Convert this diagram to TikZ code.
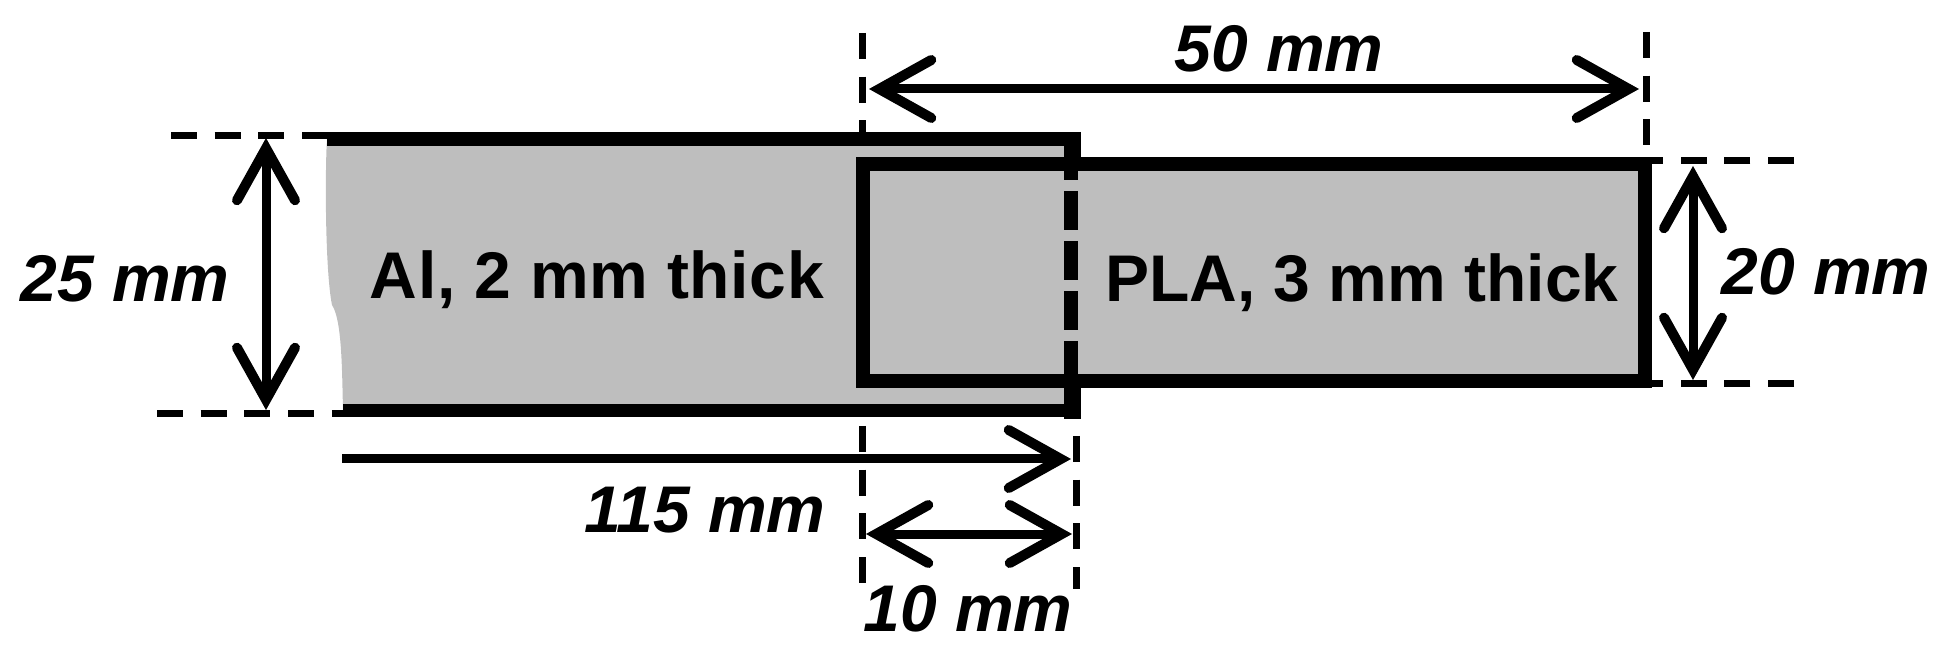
\documentclass[tikz,border=0pt]{standalone}
\usepackage{fontspec}
\setmainfont{Liberation Sans}
\usetikzlibrary{arrows.meta}
\newlength{\du}
\setlength{\du}{0.5pt}
\definecolor{dialinecolor}{rgb}{0.745098, 0.745098, 0.745098}
\tikzset{
  outline/.style={line width=14\du, line cap=rect, line join=miter},
  guideline/.style={line width=7\du, dash pattern=on 26\du off 17.7\du},
  barb/.tip={Straight Barb[length=26pt, width=29pt, line cap=round, line join=miter, line width=5pt]},
  dimline/.style={line width=9\du, barb-barb},
  dimlineone/.style={line width=9\du, -barb},
  dimlabel/.style={font=\fontsize{33}{40}\selectfont\bfseries\itshape, inner sep=0pt, anchor=base},
  matlabel/.style={font=\fontsize{33}{40}\selectfont\bfseries, inner sep=0pt, anchor=base}
}
\begin{document}
\begin{tikzpicture}
\pgftransformxscale{1.000000}
\pgftransformyscale{-1.000000}
\useasboundingbox (0.000000\du,0.000000\du) rectangle (1960.000000\du,662.000000\du);
% fill of both strips
\fill[dialinecolor] (327.000000\du,139.000000\du) .. controls (325.000000\du,170.000000\du) and (325.000000\du,270.000000\du) .. (332.000000\du,305.000000\du) .. controls (342.000000\du,320.000000\du) and (342.000000\du,370.000000\du) .. (343.000000\du,410.000000\du)--(1072.000000\du,410.000000\du)--(1072.000000\du,381.500000\du)--(1645.000000\du,381.500000\du)--(1645.000000\du,164.500000\du)--(1072.000000\du,164.500000\du)--(1072.000000\du,139.000000\du)--cycle;
% corners
\coordinate (altopleft) at (327.000000\du,139.000000\du);
\coordinate (altopright) at (1081.000000\du,139.000000\du);
\coordinate (albotleft) at (343.000000\du,410.500000\du);
\coordinate (albotright) at (1081.000000\du,410.500000\du);
\coordinate (alnecka) at (1072.500000\du,132.000000\du);
\coordinate (alneckb) at (1072.500000\du,171.000000\du);
\coordinate (alneckc) at (1072.500000\du,375.000000\du);
\coordinate (alneckd) at (1072.500000\du,419.000000\du);
\coordinate (alhidetop) at (1071.000000\du,141.000000\du);
\coordinate (alhidebot) at (1071.000000\du,375.000000\du);
\coordinate (plaNW) at (863.000000\du,164.500000\du);
\coordinate (plaNE) at (1645.000000\du,164.500000\du);
\coordinate (plaSE) at (1645.000000\du,381.500000\du);
\coordinate (plaSW) at (863.000000\du,381.500000\du);
% guide lines
\coordinate (gta) at (171.000000\du,135.500000\du);
\coordinate (gtb) at (327.000000\du,135.500000\du);
\coordinate (gba) at (157.000000\du,413.500000\du);
\coordinate (gbb) at (343.000000\du,413.500000\du);
\coordinate (gra) at (1794.000000\du,161.000000\du);
\coordinate (grb) at (1652.000000\du,161.000000\du);
\coordinate (gsa) at (1794.000000\du,384.000000\du);
\coordinate (gsb) at (1652.000000\du,384.000000\du);
\coordinate (gua) at (862.000000\du,33.000000\du);
\coordinate (gub) at (862.000000\du,132.000000\du);
\coordinate (gva) at (1646.000000\du,32.000000\du);
\coordinate (gvb) at (1646.000000\du,146.000000\du);
\coordinate (gwa) at (862.000000\du,426.000000\du);
\coordinate (gwb) at (862.000000\du,583.000000\du);
\coordinate (gxa) at (1076.000000\du,436.000000\du);
\coordinate (gxb) at (1076.000000\du,589.000000\du);
\draw[guideline] (gta)--(gtb);
\draw[guideline] (gba)--(gbb);
\draw[guideline] (gra)--(grb);
\draw[guideline] (gsa)--(gsb);
\draw[guideline] (gua)--(gub);
\draw[guideline] (gva)--(gvb);
\draw[guideline] (gwa)--(gwb);
\draw[guideline] (gxa)--(gxb);
% outlines
\draw[line width=14\du] (altopleft)--(altopright);
\draw[line width=13\du] (albotleft)--(albotright);
\draw[line width=17\du] (alnecka)--(alneckb);
\draw[line width=17\du] (alneckc)--(alneckd);
\draw[line width=14\du, dash pattern=on 39\du off 11\du] (alhidetop)--(alhidebot);
\draw[outline] (plaNW)--(plaNE)--(plaSE)--(plaSW)--cycle;
% dimensions
\coordinate (dima) at (266.000000\du,138.000000\du);
\coordinate (dimb) at (266.000000\du,410.000000\du);
\coordinate (dimc) at (1693.000000\du,166.000000\du);
\coordinate (dimd) at (1693.000000\du,380.000000\du);
\coordinate (dime) at (869.000000\du,89.000000\du);
\coordinate (dimf) at (1639.000000\du,89.000000\du);
\coordinate (dimg) at (342.000000\du,459.000000\du);
\coordinate (dimh) at (1071.000000\du,459.000000\du);
\coordinate (dimi) at (866.000000\du,534.000000\du);
\coordinate (dimj) at (1072.000000\du,534.000000\du);
\draw[dimline] (dima)--(dimb);
\draw[dimline] (dimc)--(dimd);
\draw[dimline] (dime)--(dimf);
\draw[dimlineone] (dimg)--(dimh);
\draw[dimline] (dimi)--(dimj);
% setfont left to latex
\node[dimlabel] (lbla) at (125.000000\du,302.000000\du){25 mm};
\node[dimlabel] (lblb) at (1279.000000\du,72.000000\du){50 mm};
\node[dimlabel] (lblc) at (1826.000000\du,295.000000\du){20 mm};
\node[dimlabel] (lbld) at (705.000000\du,532.000000\du){115 mm};
\node[dimlabel] (lble) at (968.000000\du,631.000000\du){10 mm};
\node[matlabel] (lblal) at (597.000000\du,299.000000\du){\addfontfeature{LetterSpace=1.0}Al, 2 mm thick};
\node[matlabel] (lblpla) at (1362.000000\du,302.000000\du){PLA, 3 mm thick};
\end{tikzpicture}
\end{document}
